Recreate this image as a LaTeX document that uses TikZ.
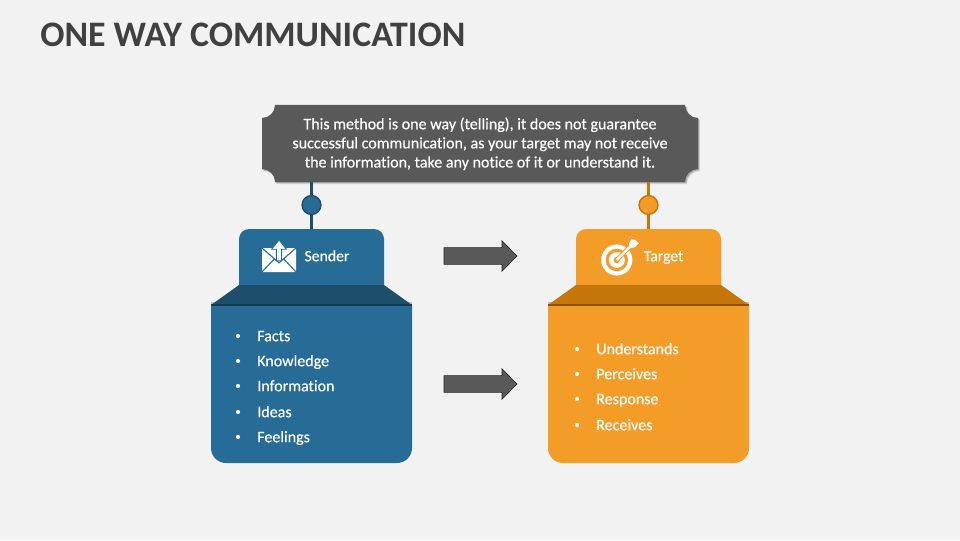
\documentclass[tikz,border=0pt]{standalone}
\usepackage{fontspec}
\setmainfont{Carlito}[Ligatures=NoCommon]
\newfontfamily\semibold{Carlito}[Ligatures=NoCommon, FakeBold=0.5]
\usetikzlibrary{positioning,calc}
\definecolor{pagegray}{HTML}{F2F2F2}
\definecolor{titlegray}{HTML}{404040}
\definecolor{plategray}{HTML}{595959}
\definecolor{senderblue}{HTML}{276C96}
\definecolor{senderdark}{HTML}{1D4E6C}
\definecolor{senderline}{HTML}{153B52}
\definecolor{targetorange}{HTML}{F39C27}
\definecolor{targetdark}{HTML}{C57608}
\definecolor{targetline}{HTML}{8A5305}
\tikzset{
  itemtext/.style={text=white, font=\fontsize{11.4}{13}\semibold, anchor=base west, inner sep=0pt},
  bullet/.style={circle, fill=white, inner sep=0pt, minimum size=3pt},
  tablabel/.style={text=white, font=\fontsize{11.2}{13}\semibold, anchor=base, inner sep=0pt},
  platetext/.style={text=white, align=center, font=\fontsize{11.4}{13.6}\semibold, inner sep=0pt},
  flowarrow/.style={fill=plategray, draw=black!60!plategray, line width=.4pt},
}
\begin{document}
\begin{tikzpicture}
\useasboundingbox (0, 0) rectangle (24, 13.5);
\fill [pagegray] (0, 0) rectangle (24, 13.5);

\node [anchor=west, inner sep=0pt, text=titlegray, font=\fontsize{25.5}{30}\selectfont\bfseries] (title) at (1, 12.63) {ONE WAY COMMUNICATION};

% plate with the four cut corners
\foreach \off/\op in {.05/.12, .03/.2}
  \fill [black, opacity=\op, shift={(\off, -\off)}] (6.875, 10.875) -- (17.125, 10.875) arc (180:270:.325) -- (17.45, 9.275) arc (90:180:.325) -- (6.875, 8.95) arc (0:90:.325) -- (6.55, 10.55) arc (270:360:.325) -- cycle;
\fill [plategray] (6.875, 10.875) -- (17.125, 10.875) arc (180:270:.325) -- (17.45, 9.275) arc (90:180:.325) -- (6.875, 8.95) arc (0:90:.325) -- (6.55, 10.55) arc (270:360:.325) -- cycle;
\node [minimum width=10.9cm, minimum height=1.925cm, inner sep=0pt] (plate) at (12, 9.9125) {};
\node [platetext] (platewords) at (12, 9.905) {This method is one way (telling), it does not guarantee\\successful communication, as your target may not receive\\the information, take any notice of it or understand it.};

% the two boxes, same shape
\foreach \name/\dx/\main/\dark/\edge in {sender/0/senderblue/senderdark/senderline, target/8.425/targetorange/targetdark/targetline} {
  \begin{scope}[xshift=\dx cm]
    \node [fill=\main, rounded corners=.25cm, minimum width=3.625cm, minimum height=1.65cm, inner sep=0pt] (\name tab) at (7.7875, 6.95) {};
    \fill [black, opacity=.2] (5.275, 5.8) rectangle (10.3, 5.95);
    \fill [\dark] (5.975, 6.375) -- (9.6, 6.375) -- (10.3, 5.875) -- (5.275, 5.875) -- cycle;
    \fill [\main] (5.275, 5.875) -- (10.3, 5.875) -- (10.3, 2.3) arc (0:-90:.375) -- (5.65, 1.925) arc (270:180:.375) -- cycle;
    \draw [\edge, line width=.8pt] (5.275, 5.875) -- (10.3, 5.875);
    \node [circle, fill=\main, draw=\dark, line width=1pt, minimum size=.47cm, inner sep=0pt] (\name dot) at (7.7875, 8.375) {};
    \draw [\dark, line width=1.6pt] (plate.south -| \name dot) -- (\name dot);
    \draw [\dark, line width=1.6pt] (\name dot) -- (\name tab.north);
  \end{scope}
}

\node [tablabel] (senderlabel) at (8.175, 6.97) {Sender};
\node [tablabel] (targetlabel) at (16.59, 6.97) {Target};

% envelope
\fill [white, rounded corners=.5pt] (6.55, 6.7) rectangle (7.4, 7.3);
\draw [senderblue, line width=.8pt] (6.55, 7.3) -- (6.975, 6.93) -- (7.4, 7.3);
\draw [senderblue, line width=.8pt] (6.55, 6.7) -- (6.86, 7.03) (7.4, 6.7) -- (7.09, 7.03);
\fill [white, draw=senderblue, line width=.6pt] (6.91, 6.98) -- (6.91, 7.27) -- (6.79, 7.27) -- (6.975, 7.5) -- (7.16, 7.27) -- (7.04, 7.27) -- (7.04, 6.98) -- cycle;

% target
\fill [white] (15.42, 7) circle (.39);
\fill [targetorange] (15.42, 7) circle (.28);
\fill [white] (15.42, 7) circle (.2);
\fill [targetorange] (15.42, 7) circle (.08);
\draw [targetorange, line width=3.2pt] (15.42, 7) -- (15.8, 7.38);
\draw [white, line width=1.8pt] (15.42, 7) -- (15.8, 7.38);
\fill [white] (15.72, 7.4) -- (15.78, 7.53) -- (15.88, 7.5) -- (15.97, 7.42) -- (15.87, 7.32) -- (15.78, 7.3) -- cycle;

% the arrows in the middle
\foreach \name/\y in {toparrow/7.1, lowarrow/3.9}
  \draw [flowarrow] (11.1, \y + .21) -- (12.55, \y + .21) -- (12.55, \y + .38) -- (12.925, \y) -- (12.55, \y - .38) -- (12.55, \y - .21) -- (11.1, \y - .21) -- cycle;

% lists
\foreach \y/\txt [count=\i] in {5.1/Facts, 4.475/Knowledge, 3.85/Information, 3.2/Ideas, 2.575/Feelings} {
  \node [bullet] (sbull\i) at (5.95, \y) {};
  \node [itemtext] (sitem\i) at (6.425, \y - .13) {\txt};
}
\foreach \y/\txt [count=\i] in {4.775/Understands, 4.15/Perceives, 3.525/Response, 2.875/Receives} {
  \node [bullet] (tbull\i) at (14.425, \y) {};
  \node [itemtext] (titem\i) at (14.9, \y - .13) {\txt};
}
\end{tikzpicture}
\end{document}
